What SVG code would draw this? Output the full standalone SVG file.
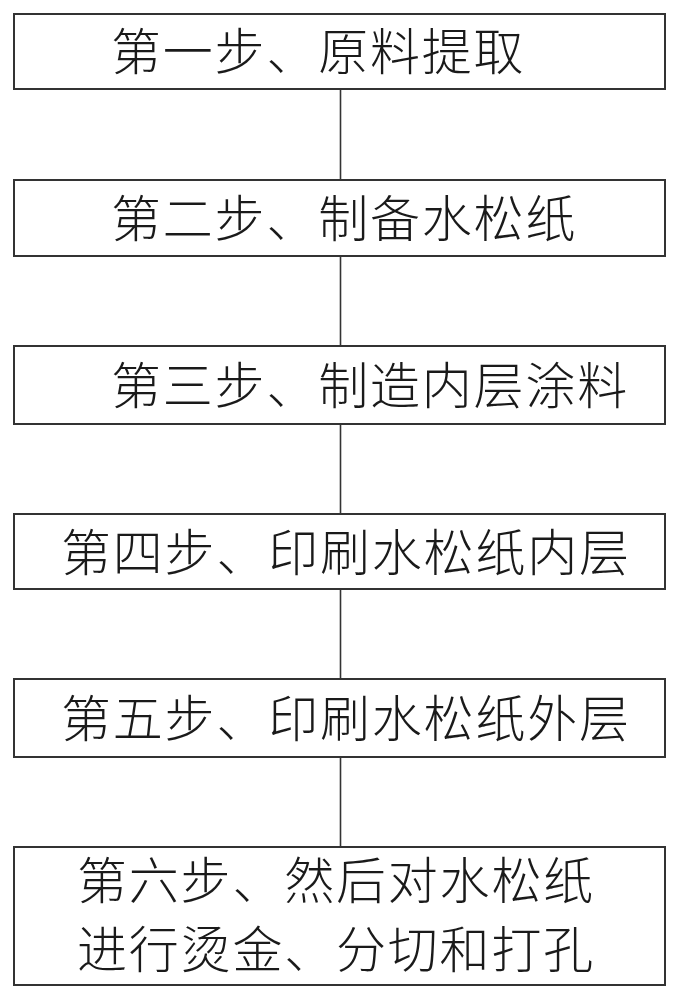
<svg xmlns="http://www.w3.org/2000/svg" width="678" height="1000" viewBox="0 0 678 1000">
<style>
.box{fill:#fff;stroke:#333;stroke-width:2}
.t{font-family:"Noto Sans CJK SC","Noto Sans CJK JP",sans-serif;font-size:50px;letter-spacing:1.8px;fill:#1a1a1a;font-weight:300}
.c{stroke:#333;stroke-width:1.6;fill:none}
</style>
<rect width="678" height="1000" fill="#fff"/>
<g id="connectors">
<line class="c" x1="340.5" y1="89" x2="340.5" y2="180"/>
<line class="c" x1="340.5" y1="256" x2="340.5" y2="346"/>
<line class="c" x1="340.5" y1="424" x2="340.5" y2="514"/>
<line class="c" x1="340.5" y1="589" x2="340.5" y2="679"/>
<line class="c" x1="340.5" y1="757" x2="340.5" y2="847"/>
</g>
<g id="step1"><rect class="box" x="14" y="14" width="651" height="75"/><text class="t" x="111" y="70">第一步、原料提取</text></g>
<g id="step2"><rect class="box" x="14" y="180" width="651" height="76"/><text class="t" x="111" y="237">第二步、制备水松纸</text></g>
<g id="step3"><rect class="box" x="14" y="346" width="651" height="78"/><text class="t" x="111" y="404">第三步、制造内层涂料</text></g>
<g id="step4"><rect class="box" x="14" y="514" width="651" height="75"/><text class="t" x="61" y="571">第四步、印刷水松纸内层</text></g>
<g id="step5"><rect class="box" x="14" y="679" width="651" height="78"/><text class="t" x="61" y="737">第五步、印刷水松纸外层</text></g>
<g id="step6"><rect class="box" x="14" y="847" width="651" height="138"/><text class="t" x="77" y="899">第六步、然后对水松纸</text><text class="t" x="77" y="968">进行烫金、分切和打孔</text></g>
</svg>
